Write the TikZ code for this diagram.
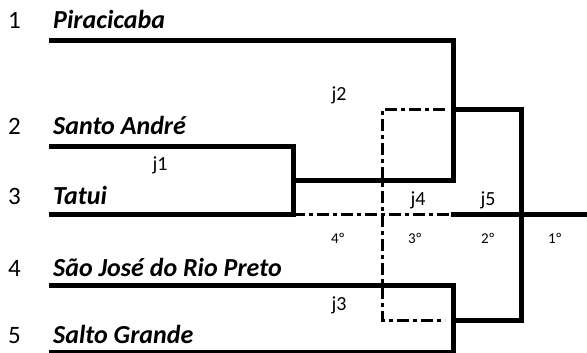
\documentclass[tikz,border=0pt]{standalone}
\usepackage{fontspec}
\setmainfont{Carlito}
\begin{document}
\begin{tikzpicture}[x=1pt,y=-1pt,
  thick line/.style={line width=5pt},
  dd line/.style={line width=3pt,dash pattern=on 12pt off 4pt on 4pt off 4pt},
  team/.style={font=\fontsize{26}{30}\selectfont\bfseries\itshape,anchor=base west,inner sep=0pt},
  num/.style={font=\fontsize{25}{29}\selectfont,anchor=base west,inner sep=0pt},
  game/.style={font=\fontsize{20}{24}\selectfont,anchor=base,inner sep=0pt},
  place/.style={font=\fontsize{15}{18}\selectfont,anchor=base,inner sep=0pt}]
\useasboundingbox (0,0) rectangle (587,353);
% labels
\node[num] (n1) at (8,29) {1};
\node[num] (n2) at (8,135) {2};
\node[num] (n3) at (8,204) {3};
\node[num] (n4) at (8,276) {4};
\node[num] (n5) at (8,343) {5};
\node[team] (t1) at (53,29) {Piracicaba};
\node[team] (t2) at (53,135) {Santo André};
\node[team] (t3) at (53,204) {Tatui};
\node[team] (t4) at (53,276) {São José do Rio Preto};
\node[team] (t5) at (53,343) {Salto Grande};
\node[game] (j1) at (160,170) {j1};
\node[game] (j2) at (339,100) {j2};
\node[game] (j3) at (339,310) {j3};
\node[game] (j4) at (418,205) {j4};
\node[game] (j5) at (488,205) {j5};
\node[place] (p4) at (338,243) {4º};
\node[place] (p3) at (415,243) {3º};
\node[place] (p2) at (488,243) {2º};
\node[place] (p1) at (555,243) {1º};
% coordinates
\coordinate (a1) at (49,41);
\coordinate (a2) at (49,146);
\coordinate (a3) at (49,214);
\coordinate (a4) at (49,285);
\coordinate (a5) at (49,352);
\coordinate (m1) at (293,146);
\coordinate (m1b) at (293,214);
\coordinate (m1c) at (293,180);
\coordinate (m2a) at (453,41);
\coordinate (m2b) at (453,180);
\coordinate (m2c) at (453,110);
\coordinate (m3a) at (453,285);
\coordinate (m3b) at (453,352);
\coordinate (m3c) at (453,320);
\coordinate (m5a) at (521,110);
\coordinate (m5b) at (521,320);
\coordinate (m5c) at (521,214);
\coordinate (e) at (587,214);
\coordinate (d1) at (382,110);
\coordinate (d2) at (382,320);
\coordinate (d3) at (451,214);
% solid bracket
\draw[thick line] (a1) -- (m2a) -- (m2b) -- (m1c);
\draw[thick line] (a2) -- (m1) -- (m1b) -- (a3);
\draw[thick line] (a4) -- (m3a) -- (m3b) -- (a5);
\draw[thick line] (m2c) -- (m5a) -- (m5b) -- (m3c);
\draw[thick line] (d3) -- (e);
% dash-dot
\draw[dd line] (m1b) -- (d3);
\draw[dd line] (445,110) -- (d1) -- (d2) -- (445,320);
\end{tikzpicture}
\end{document}
